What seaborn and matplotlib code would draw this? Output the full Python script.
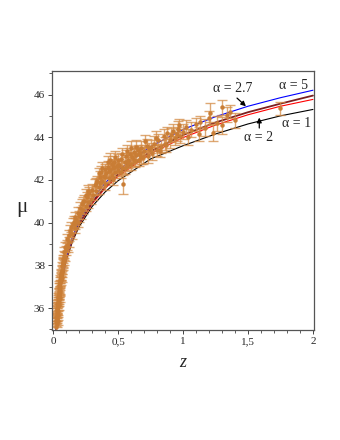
import numpy as np
import pandas as pd
import matplotlib
matplotlib.use("Agg")
import matplotlib.pyplot as plt
from matplotlib.ticker import MultipleLocator, FixedLocator, FixedFormatter
import seaborn as sns

# ---- model curves ----
z_curve = [0.02, 0.05, 0.1, 0.15, 0.2, 0.3, 0.4, 0.5, 0.75, 1.0, 1.25, 1.5, 1.75, 2.0]
mu_alpha1 = [34.65, 36.67, 38.20, 39.13, 39.80, 40.75, 41.43, 41.96, 42.98, 43.60, 44.15, 44.62, 45.00, 45.30]
mu_alpha2 = [34.68, 36.70, 38.27, 39.22, 39.90, 40.88, 41.60, 42.17, 43.23, 43.98, 44.57, 45.05, 45.45, 45.77]
mu_alpha27 = [34.70, 36.72, 38.30, 39.26, 39.95, 40.95, 41.68, 42.26, 43.33, 44.10, 44.69, 45.17, 45.57, 45.95]
mu_alpha5 = [34.72, 36.75, 38.35, 39.33, 40.05, 41.08, 41.85, 42.45, 43.56, 44.36, 44.96, 45.45, 45.85, 46.20]

z_data = [0.022, 0.024, 0.025, 0.027, 0.028, 0.030, 0.031, 0.032, 0.033, 0.034,
          0.035, 0.036, 0.037, 0.038, 0.039, 0.040, 0.041, 0.042, 0.043, 0.044,
          0.045, 0.046, 0.047, 0.048, 0.049, 0.050, 0.051, 0.052, 0.053, 0.055,
          0.056, 0.058, 0.060, 0.062, 0.064, 0.066, 0.068, 0.070, 0.073, 0.076,
          0.079, 0.082, 0.086, 0.090, 0.094, 0.098,
          0.105, 0.11, 0.115, 0.12, 0.125, 0.13, 0.14, 0.145, 0.15, 0.16,
          0.165, 0.17, 0.18, 0.19, 0.20, 0.21, 0.215, 0.22, 0.23, 0.24,
          0.25, 0.26, 0.27, 0.28, 0.29, 0.30,
          0.31, 0.32, 0.33, 0.34, 0.35, 0.36, 0.36, 0.37, 0.38, 0.39,
          0.40, 0.40, 0.41, 0.42, 0.43, 0.44, 0.45, 0.45, 0.46, 0.47,
          0.48, 0.49, 0.50, 0.50, 0.51, 0.52, 0.53, 0.54, 0.55, 0.56,
          0.57, 0.58, 0.59, 0.60, 0.61, 0.62, 0.63, 0.64, 0.65, 0.66,
          0.67, 0.68, 0.69, 0.70, 0.72, 0.73, 0.74, 0.76, 0.78, 0.80,
          0.81, 0.83, 0.85, 0.86, 0.88, 0.90, 0.92, 0.94, 0.96, 0.98,
          1.00, 1.02, 1.04, 1.06, 1.10, 1.12, 1.13, 1.17, 1.20, 1.21,
          1.23, 1.26, 1.30, 1.30, 1.34, 1.36, 1.40, 1.75,
          0.33, 0.35, 0.37, 0.38, 0.40, 0.42, 0.43, 0.44, 0.46, 0.47,
          0.48, 0.50, 0.52, 0.53, 0.55, 0.57, 0.58, 0.60, 0.62, 0.64,
          0.66, 0.68, 0.71, 0.75, 0.79, 0.82, 0.87, 0.91, 0.95, 0.97,
          0.23, 0.25, 0.27, 0.19, 0.17, 0.026, 0.029, 0.034, 0.040, 0.047,
          0.054, 0.061, 0.069, 0.078, 0.088]
mu_data = [35.10, 35.35, 35.60, 35.25, 35.80, 35.50, 36.00, 35.70, 35.95, 36.20,
           35.40, 36.35, 35.85, 36.10, 36.50, 36.25, 35.65, 36.60, 36.40, 36.80,
           36.15, 36.70, 36.95, 36.55, 37.10, 36.85, 37.25, 36.45, 37.00, 37.35,
           37.15, 37.50, 37.30, 37.65, 37.45, 37.80, 37.95, 37.70, 38.10, 38.30,
           38.05, 38.45, 38.60, 38.40, 38.85, 38.70,
           38.95, 39.25, 38.85, 39.40, 39.10, 39.60, 39.80, 39.45, 39.95, 40.05,
           39.75, 40.25, 40.10, 40.45, 40.30, 40.70, 40.45, 40.85, 40.60, 41.00,
           40.80, 41.20, 40.95, 41.40, 41.10, 41.55,
           41.30, 41.75, 41.50, 41.95, 41.65, 42.15, 41.85, 42.35, 41.95, 42.20,
           42.50, 41.80, 42.30, 42.60, 42.10, 42.45, 42.75, 42.25, 42.55, 42.85,
           42.35, 42.65, 42.95, 42.45, 42.70, 43.00, 42.55, 41.80, 42.85, 43.10,
           42.65, 42.95, 43.20, 42.75, 43.05, 43.30, 42.90, 43.15, 43.40, 42.95,
           43.25, 43.50, 43.05, 43.35, 43.60, 43.10, 43.45, 43.25, 43.70, 43.40,
           43.85, 43.55, 44.05, 43.70, 44.20, 43.85, 44.30, 43.95, 44.40, 44.05,
           44.25, 44.50, 44.00, 44.35, 44.60, 44.15, 44.70, 44.45, 44.90, 45.15,
           44.20, 44.65, 45.40, 44.55, 45.05, 45.20, 44.80, 45.35,
           41.85, 42.30, 41.90, 42.55, 42.15, 42.85, 42.40, 42.95, 42.05, 42.60,
           43.05, 42.70, 42.35, 43.20, 42.55, 43.35, 42.80, 43.50, 42.95, 43.55,
           43.20, 43.05, 43.80, 43.55, 43.95, 43.35, 43.65, 44.10, 44.15, 44.55,
           40.95, 41.30, 41.50, 40.05, 39.95, 35.45, 35.90, 35.55, 36.45, 36.30,
           36.75, 37.55, 37.40, 38.15, 38.25]
err_data = [0.20, 0.18, 0.22, 0.15, 0.20, 0.18, 0.22, 0.15, 0.20, 0.18,
            0.20, 0.15, 0.20, 0.18, 0.22, 0.15, 0.20, 0.18, 0.20, 0.15,
            0.22, 0.18, 0.20, 0.15, 0.18, 0.20, 0.22, 0.18, 0.15, 0.20,
            0.18, 0.20, 0.22, 0.18, 0.20, 0.22, 0.20, 0.25, 0.22, 0.20,
            0.25, 0.22, 0.25, 0.22, 0.25, 0.22,
            0.25, 0.22, 0.25, 0.25, 0.22, 0.28, 0.25, 0.22, 0.25, 0.28,
            0.25, 0.25, 0.22, 0.28, 0.25, 0.25, 0.28, 0.25, 0.22, 0.28,
            0.25, 0.25, 0.28, 0.25, 0.22, 0.28,
            0.25, 0.28, 0.22, 0.25, 0.30, 0.25, 0.22, 0.28, 0.25, 0.30,
            0.25, 0.28, 0.22, 0.30, 0.25, 0.28, 0.25, 0.30, 0.22, 0.28,
            0.25, 0.30, 0.28, 0.25, 0.30, 0.28, 0.25, 0.45, 0.30, 0.28,
            0.25, 0.30, 0.28, 0.30, 0.25, 0.30, 0.28, 0.30, 0.25, 0.30,
            0.28, 0.30, 0.32, 0.28, 0.30, 0.32, 0.28, 0.30, 0.35, 0.30,
            0.32, 0.30, 0.35, 0.32, 0.30, 0.35, 0.32, 0.30, 0.35, 0.32,
            0.35, 0.30, 0.38, 0.35, 0.30, 0.35, 0.30, 0.40, 0.35, 0.45,
            0.40, 0.35, 0.35, 0.40, 0.35, 0.30, 0.35, 0.30,
            0.25, 0.28, 0.25, 0.30, 0.25, 0.28, 0.25, 0.30, 0.28, 0.25,
            0.30, 0.28, 0.25, 0.30, 0.28, 0.30, 0.25, 0.30, 0.28, 0.30,
            0.28, 0.30, 0.32, 0.30, 0.32, 0.30, 0.35, 0.32, 0.35, 0.32,
            0.25, 0.28, 0.25, 0.25, 0.25, 0.18, 0.20, 0.15, 0.18, 0.20,
            0.18, 0.22, 0.20, 0.22, 0.25]

labels = ["α = 5", "α = 2.7", "α = 2", "α = 1"]

sns.set_style("ticks")
plt.rcParams["font.family"] = ["Liberation Serif", "DejaVu Serif"]

fig = plt.figure(figsize=(3.4, 4.4), dpi=100)
ax = fig.add_axes([0.153, 0.25, 0.7705, 0.5886])

curves = pd.DataFrame({
    "z": z_curve * 4,
    "mu": mu_alpha1 + mu_alpha2 + mu_alpha27 + mu_alpha5,
    "model": ["a1"] * len(z_curve) + ["a2"] * len(z_curve) + ["a27"] * len(z_curve) + ["a5"] * len(z_curve),
})
palette = {"a1": "black", "a2": "#ff0000", "a27": "#7a1f1f", "a5": "#0000ff"}
widths = {"a1": 0.8, "a2": 0.8, "a27": 1.3, "a5": 0.8}
for m in ["a1", "a2", "a27", "a5"]:
    sub = curves[curves.model == m]
    sns.lineplot(data=sub, x="z", y="mu", color=palette[m], lw=widths[m],
                 ax=ax, sort=False, estimator=None, zorder=1, legend=False)

data = pd.DataFrame({"z": z_data, "mu": mu_data, "err": err_data})
ax.errorbar(data.z, data.mu, yerr=data.err, fmt="none", ecolor="#d48b45",
            elinewidth=1.0, capsize=3.6, capthick=1.0, alpha=0.75, zorder=2)
sns.scatterplot(data=data, x="z", y="mu", color="#c97d35", s=8, edgecolor="#c97d35",
                linewidth=0.3, ax=ax, zorder=3, legend=False)

ax.set_xlim(-0.008, 2.008)
ax.set_ylim(34.97, 47.1)
ax.xaxis.set_major_locator(FixedLocator([0, 0.5, 1, 1.5, 2]))
ax.xaxis.set_major_formatter(FixedFormatter(["0", "0,5", "1", "1,5", "2"]))
ax.xaxis.set_minor_locator(MultipleLocator(0.1))
ax.yaxis.set_major_locator(MultipleLocator(2))
ax.yaxis.set_minor_locator(MultipleLocator(1))
ax.tick_params(axis="both", which="major", labelsize=8, length=3, width=0.7,
               color="#444444", pad=2)
ax.tick_params(axis="both", which="minor", length=2, width=0.6, color="#444444")
ax.tick_params(top=False, right=False, which="both")
for s in ax.spines.values():
    s.set_visible(True)
    s.set_color("#555555")
    s.set_linewidth(0.9)

ax.set_xlabel("")
ax.set_ylabel("")
fig.text(22 / 340, 1 - 207 / 440, "μ", fontsize=15, ha="center", va="center")
fig.text(183 / 340, 1 - 362 / 440, "z", fontsize=13, style="italic", ha="center", va="center")

fs = 10
ax.text(1.85, 46.42, labels[0], fontsize=fs, ha="center", va="center")
ax.text(1.385, 46.28, labels[1], fontsize=fs, ha="center", va="center")
ax.text(1.58, 43.99, labels[2], fontsize=fs, ha="center", va="center")
ax.text(1.875, 44.64, labels[3], fontsize=fs, ha="center", va="center")
ax.annotate("", xy=(1.50, 45.36), xytext=(1.40, 45.92),
            arrowprops=dict(arrowstyle="-|>", color="black", lw=0.9, mutation_scale=7))
ax.annotate("", xy=(1.587, 45.05), xytext=(1.587, 44.30),
            arrowprops=dict(arrowstyle="-|>", color="black", lw=0.9, mutation_scale=7))

fig.savefig("out.png", dpi=100)
